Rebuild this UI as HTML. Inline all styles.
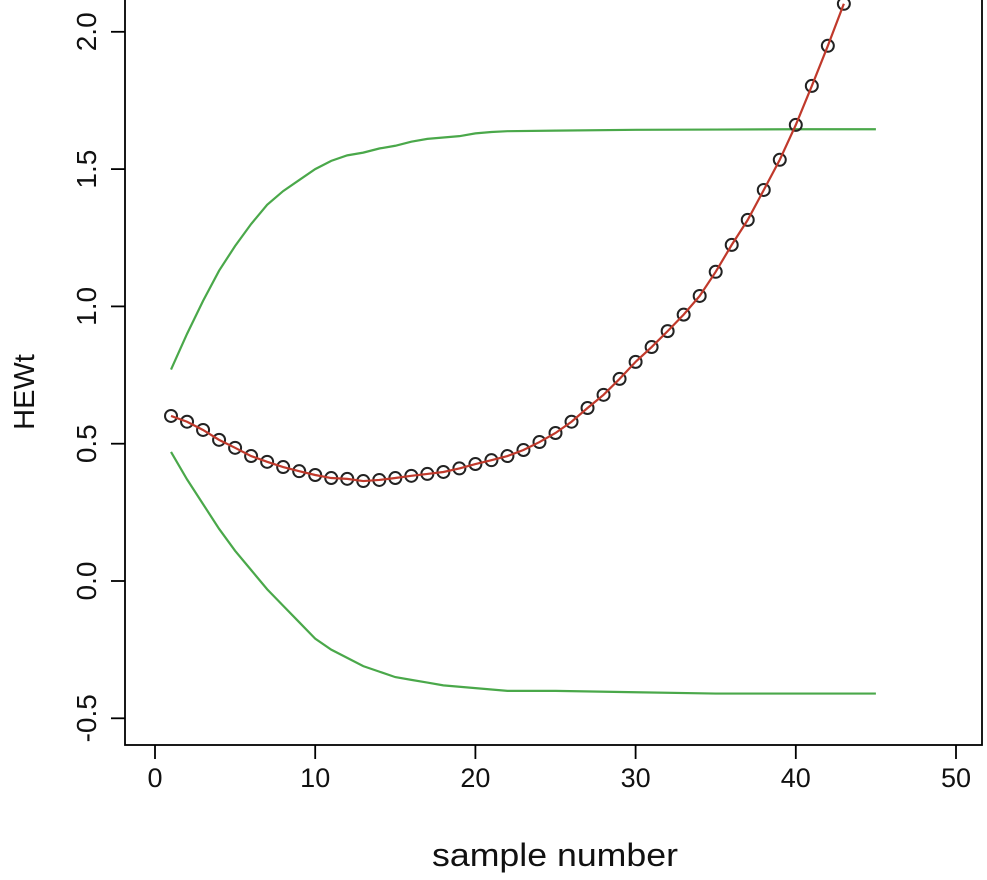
<!DOCTYPE html>
<html><head><meta charset="utf-8"><style>
body{margin:0;background:#fff}
svg{display:block;font-family:"Liberation Sans",Arial,sans-serif}
</style></head><body>
<svg id="chart" width="987" height="880" viewBox="0 0 987 880">
<g id="plot"></g>
</svg>
<script>
const samples=[1,2,3,4,5,6,7,8,9,10,11,12,13,14,15,16,17,18,19,20,21,22,23,24,25,26,27,28,29,30,31,32,33,34,35,36,37,38,39,40,41,42,43];
const hewt=[0.601,0.58,0.55,0.514,0.485,0.455,0.434,0.415,0.40,0.386,0.375,0.372,0.364,0.368,0.375,0.383,0.39,0.397,0.41,0.426,0.44,0.455,0.477,0.506,0.539,0.58,0.63,0.678,0.736,0.798,0.852,0.91,0.97,1.038,1.126,1.224,1.315,1.424,1.534,1.661,1.803,1.949,2.102];
const limitX=[1,2,3,4,5,6,7,8,9,10,11,12,13,14,15,16,17,18,19,20,21,22,25,30,35,40,45];
const upper=[0.77,0.90,1.02,1.13,1.22,1.30,1.37,1.42,1.46,1.50,1.53,1.55,1.56,1.575,1.585,1.60,1.61,1.615,1.62,1.63,1.635,1.638,1.64,1.643,1.644,1.645,1.645];
const lower=[0.47,0.37,0.28,0.19,0.11,0.04,-0.03,-0.09,-0.15,-0.21,-0.25,-0.28,-0.31,-0.33,-0.35,-0.36,-0.37,-0.38,-0.385,-0.39,-0.395,-0.40,-0.40,-0.405,-0.41,-0.41,-0.41];
const xTicks=[0,10,20,30,40,50];
const yTicks=[-0.5,0.0,0.5,1.0,1.5,2.0];
const yTickLabels=["-0.5","0.0","0.5","1.0","1.5","2.0"];

const X=v=>155+v*16.02;
const Y=v=>581-v*274.6;
const NS="http://www.w3.org/2000/svg";
const g=document.getElementById('plot');
function mk(t,a,p){const e=document.createElementNS(NS,t);for(const k in a)e.setAttribute(k,a[k]);(p||g).appendChild(e);return e;}

const defs=mk('defs',{});
const cp=mk('clipPath',{id:'clip'},defs);
mk('rect',{x:125,y:0,width:857,height:745},cp);

const frame=mk('rect',{x:125,y:-2,width:857,height:747,fill:'none',stroke:'#000','stroke-width':1.8});



xTicks.forEach(t=>{
 const l=mk('line',{x1:X(t),x2:X(t),y1:745,y2:759,stroke:'#000','stroke-width':1.8});
 
 
 const tx=mk('text',{x:X(t),y:787,'font-size':27,'text-anchor':'middle',fill:'#111'});
 tx.textContent=t;
 
 
});
yTicks.forEach((t,i)=>{
 const l=mk('line',{x1:111,x2:125,y1:Y(t),y2:Y(t),stroke:'#000','stroke-width':1.8});
 
 
 const tx=mk('text',{x:0,y:0,'font-size':28,'text-anchor':'middle',fill:'#111',transform:`translate(96,${Y(t)}) rotate(-90)`});
 tx.textContent=yTickLabels[i];
 
 
});
const xt=mk('text',{x:555,y:866,'font-size':32,'text-anchor':'middle',fill:'#111',textLength:246,lengthAdjust:'spacingAndGlyphs'});
xt.textContent='sample number';


const yt=mk('text',{x:0,y:0,'font-size':29,'text-anchor':'middle',fill:'#111',transform:'translate(34,392) rotate(-90)'});
yt.textContent='HEWt';



const pg=mk('g',{'clip-path':'url(#clip)'});
function line(xs,ys,col,name){
 const p=mk('polyline',{points:xs.map((x,i)=>X(x)+','+Y(ys[i])).join(' '),fill:'none',stroke:col,'stroke-width':2.2},pg);
 
 
}
line(limitX,upper,'#4aa84a','upper-control-limit');
line(limitX,lower,'#4aa84a','lower-control-limit');
samples.forEach((s,i)=>{
 const c=mk('circle',{cx:X(s),cy:Y(hewt[i]),r:6,fill:'none',stroke:'#222','stroke-width':2},pg);
 
 
});
line(samples,hewt,'#c0392b','hewt-line');
</script>
</body></html>
